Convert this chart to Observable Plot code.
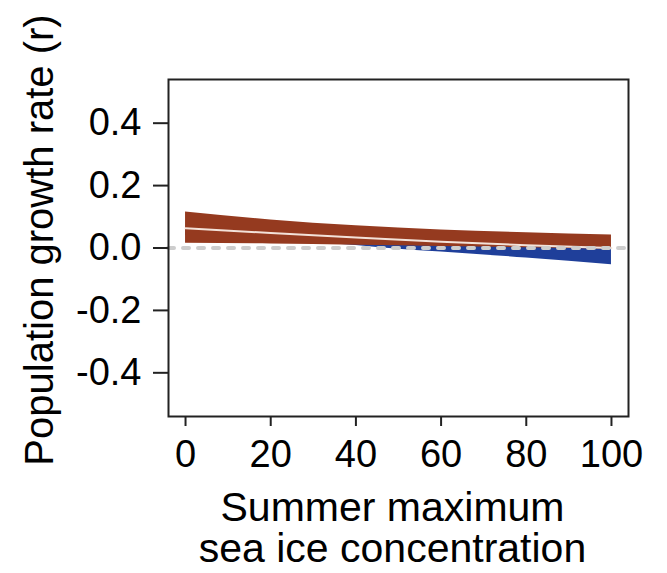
<!DOCTYPE html>
<html>
<head>
<meta charset="utf-8">
<script src="https://cdn.jsdelivr.net/npm/d3@7"></script>
<script src="https://cdn.jsdelivr.net/npm/@observablehq/plot@0.6"></script>
<style>
  html, body { margin: 0; padding: 0; background: #fff; }
</style>
</head>
<body>
<div id="chart"></div>
<script>
// Sea ice concentration (x) values
const redX = [0, 20, 40, 60, 80, 100];
const redUpper = [0.115, 0.090, 0.071, 0.058, 0.049, 0.042];
const redLower = [0.015, 0.013, 0.009, 0.005, 0.001, -0.004];
const meanLine = [0.063, 0.048, 0.034, 0.020, 0.009, 0.000];

const blueX = [0, 40, 50, 60, 80, 100];
const blueUpper = [0.060, 0.040, 0.030, 0.020, 0.010, 0.000];
const blueLower = [0.040, 0.008, -0.004, -0.013, -0.032, -0.054];

const xTicks = [0, 20, 40, 60, 80, 100];
const yTicks = [-0.4, -0.2, 0, 0.2, 0.4];
const xLabel = "Summer maximum\nsea ice concentration";
const yLabel = "Population growth rate (r)";

const red = redX.map((x, i) => ({x, lo: redLower[i], hi: redUpper[i], m: meanLine[i]}));
const blue = blueX.map((x, i) => ({x, lo: blueLower[i], hi: blueUpper[i]}));

const chart = Plot.plot({
  width: 667,
  height: 573,
  marginLeft: 168,
  marginRight: 39,
  marginTop: 79,
  marginBottom: 157,
  style: {fontFamily: "'Liberation Sans', Arial, Helvetica, sans-serif", fontSize: "38px", color: "#000", background: "#fff", overflow: "visible"},
  x: {domain: [-4, 104]},
  y: {domain: [-0.54, 0.54]},
  marks: [
    Plot.areaY(blue, {x: "x", y1: "lo", y2: "hi", fill: "#1f3f9a", curve: "monotone-x"}),
    Plot.areaY(red, {x: "x", y1: "lo", y2: "hi", fill: "#953a1f", curve: "monotone-x"}),
    Plot.line(red, {x: "x", y: "m", stroke: "#f3e2d9", strokeWidth: 2, curve: "monotone-x"}),
    Plot.ruleY([0], {stroke: "#cdcdcd", strokeWidth: 4, strokeDasharray: "6,9", strokeLinecap: "round"}),
    Plot.frame({stroke: "#222", strokeWidth: 2}),
    Plot.axisY(yTicks, {tickSize: 15, tickPadding: 12, tickFormat: d => d.toFixed(1), label: null, fontSize: 38, stroke: "#222", strokeWidth: 2}),
    Plot.axisX(xTicks, {tickSize: 10, tickPadding: 14, label: null, fontSize: 38, stroke: "#222", strokeWidth: 2}),
    Plot.text([yLabel], {text: d => d, frameAnchor: "left", textAnchor: "middle", rotate: -90, dx: -128, dy: -8, fontSize: 40, fill: "#000"}),
    Plot.text([xLabel], {text: d => d, frameAnchor: "bottom", textAnchor: "middle", lineAnchor: "top", dx: -6, dy: 75, fontSize: 41, lineHeight: 1.0, fill: "#000"})
  ]
});
document.getElementById("chart").appendChild(chart);
</script>
</body>
</html>
